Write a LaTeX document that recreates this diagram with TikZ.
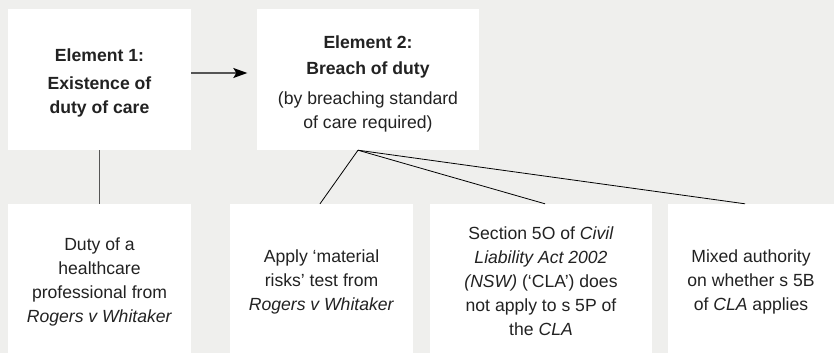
\documentclass[tikz,border=0pt]{standalone}
\usepackage{fontspec}
\setmainfont{Liberation Sans}
\usetikzlibrary{arrows.meta}
\definecolor{bg}{HTML}{EFEFED}
\definecolor{txt}{HTML}{222222}
\definecolor{conn}{HTML}{555555}
\tikzset{
  box/.style={draw=none, fill=white, inner sep=0pt},
  topbox/.style={box, minimum height=141pt},
  botbox/.style={box, minimum height=149pt},
  label text/.style={inner sep=0pt, align=center, text=txt,
    font={\fontsize{17.6}{24}\selectfont}},
  thin/.style={draw=black, line width=0.8pt},
  vline/.style={draw=conn, line width=1.2pt},
  arr/.style={draw=conn, line width=1.2pt, -{Stealth[length=14pt,width=10pt,inset=3pt,black]}, shorten >=9.5pt}
}
\begin{document}
\begin{tikzpicture}[x=1pt,y=-1pt]
\fill[bg] (0,0) rectangle (834,353);
\useasboundingbox (0,0) rectangle (834,353);

\node[topbox, minimum width=183pt] (b1) at (99.5,79.5) {};
\node[topbox, minimum width=222pt] (b2) at (368,79.5) {};
\node[botbox, minimum width=183pt] (ba) at (99.5,278.5) {};
\node[botbox, minimum width=183pt] (bb) at (321.5,278.5) {};
\node[botbox, minimum width=222pt] (bc) at (541,278.5) {};
\node[botbox, minimum width=166pt] (bd) at (751,278.5) {};

\node[label text] (t1) at ([yshift=-3.5pt]b1.center)
  {\textbf{Element 1:}\\[4pt]\textbf{Existence of}\\\textbf{duty of care}};
\node[label text] (t2) at ([yshift=-4pt]b2.center)
  {\textbf{Element 2:}\\[2pt]\textbf{Breach of duty}\\[6pt](by breaching standard\\of care required)};
\node[label text] (ta) at ([yshift=-3.5pt]ba.center)
  {Duty of a\\healthcare\\professional from\\\textit{Rogers v Whitaker}};
\node[label text] (tb) at ([yshift=-3.5pt]bb.center)
  {Apply ‘material\\risks’ test from\\\textit{Rogers v Whitaker}};
\node[label text] (tc) at ([yshift=-3pt]bc.center)
  {Section 5O of \textit{Civil}\\\textit{Liability Act 2002}\\\textit{(NSW)} (‘CLA’) does\\not apply to s 5P of\\the \textit{CLA}};
\node[label text] (td) at ([yshift=-3.5pt]bd.center)
  {Mixed authority\\on whether s 5B\\of \textit{CLA} applies};

\coordinate (o) at ([xshift=-10pt]b2.south);

\draw[arr] ([yshift=6.5pt]b1.east) -- ([yshift=6.5pt]b2.west);
\draw[vline] (b1.south) -- (ba.north);
\draw[thin] (o) -- ([xshift=-1.5pt]bb.north);
\draw[thin] (o) -- ([xshift=4pt]bc.north);
\draw[thin] (o) -- ([xshift=-6pt]bd.north);
\end{tikzpicture}
\end{document}
